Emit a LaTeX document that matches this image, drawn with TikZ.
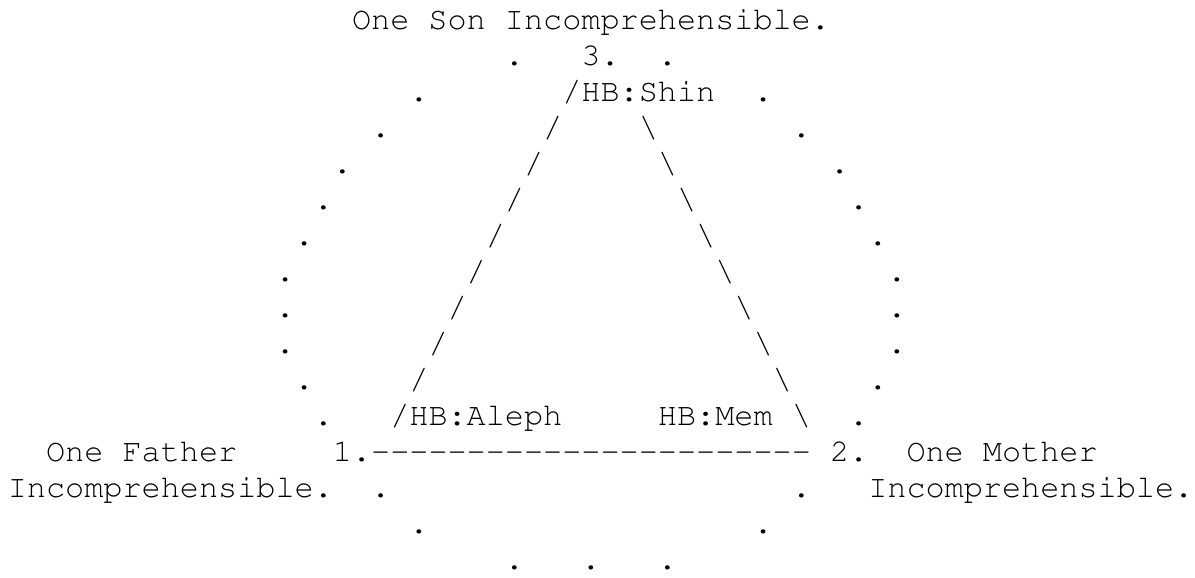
\documentclass[tikz,border=0pt]{standalone}
\usepackage[T1]{fontenc}
\usepackage{courier}
\tikzset{
  glyph/.style={anchor=base west, inner sep=0pt, outer sep=0pt,
    font=\ttfamily\fontsize{32}{36}\selectfont}
}
\begin{document}
\begin{tikzpicture}[x=19.2pt, y=-36.15pt]
  \useasboundingbox (-0.411,0.170) rectangle (62.089,16.214);
  % labels
  \node[glyph] (son) at (18,1) {One Son Incomprehensible.};
  \node[glyph] (three) at (30,2) {3.};
  \node[glyph] (shin) at (29,3) {/HB:Shin};
  \node[glyph] (aleph) at (20,12) {/HB:Aleph};
  \node[glyph] (mem) at (34,12) {HB:Mem};
  \node[glyph] (father) at (2,13) {One Father};
  \node[glyph] (one) at (17,13) {1.};
  \node[glyph] (two) at (43,13) {2.};
  \node[glyph] (mother) at (47,13) {One Mother};
  \node[glyph] (fatherinc) at (0,14) {Incomprehensible.};
  \node[glyph] (motherinc) at (45,14) {Incomprehensible.};
  % sides of the triangle
  \foreach \r in {4,...,11}
    \node[glyph] (ls\r) at ({32-\r},\r) {/};
  \foreach \r in {4,...,12}
    \node[glyph] (rs\r) at ({29+\r},\r) {\textbackslash};
  \foreach \c in {19,...,41}
    \node[glyph] (dash\c) at (\c,13) {-};
  % dotted circle
  \foreach \c/\r [count=\i] in {26/2,34/2,21/3,39/3,19/4,41/4,17/5,43/5,
      16/6,44/6,15/7,45/7,14/8,46/8,14/9,46/9,14/10,46/10,15/11,45/11,
      16/12,44/12,19/14,41/14,21/15,39/15,26/16,30/16,34/16}
    \node[glyph] (dot\i) at (\c,\r) {.};
\end{tikzpicture}
\end{document}
